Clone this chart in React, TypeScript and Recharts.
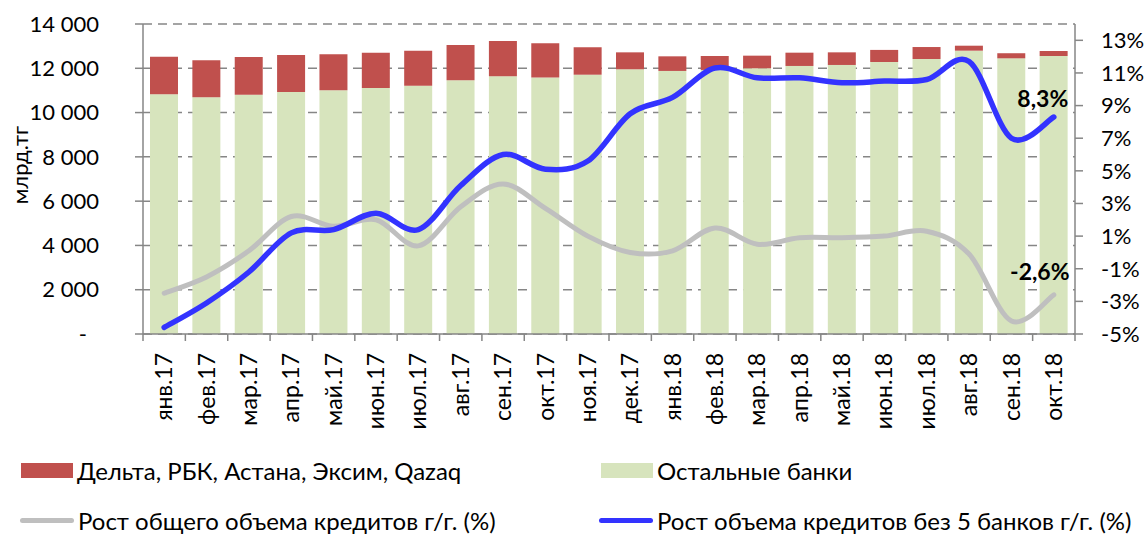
import { ComposedChart, Bar, Line, XAxis, YAxis, CartesianGrid } from "recharts";

const months = [
  "янв.17", "фев.17", "мар.17", "апр.17", "май.17", "июн.17", "июл.17", "авг.17", "сен.17", "окт.17", "ноя.17",
  "дек.17", "янв.18", "фев.18", "мар.18", "апр.18", "май.18", "июн.18", "июл.18", "авг.18", "сен.18", "окт.18",
];
const otherBanks = [10830, 10690, 10810, 10930, 11005, 11110, 11215, 11460, 11640, 11580, 11710, 11955, 11880, 11925, 12000, 12105, 12150, 12285, 12420, 12795, 12450, 12555];
const fiveBanks = [1695, 1670, 1700, 1670, 1625, 1595, 1580, 1590, 1595, 1550, 1240, 765, 660, 630, 570, 600, 570, 545, 540, 225, 230, 225];
const totalGrowth = [-2.5, -1.5, 0.1, 2.2, 1.6, 2.0, 0.4, 2.8, 4.2, 2.7, 1.0, 0.0, 0.1, 1.5, 0.5, 0.9, 0.9, 1.0, 1.3, -0.1, -4.2, -2.6];
const growthEx5 = [-4.6, -3.1, -1.2, 1.2, 1.4, 2.4, 1.4, 4.1, 6.0, 5.1, 5.6, 8.5, 9.5, 11.3, 10.7, 10.7, 10.4, 10.5, 10.6, 11.7, 7.0, 8.3];
const leftTicks = [0, 2000, 4000, 6000, 8000, 10000, 12000, 14000];
const rightTicks = [-5, -3, -1, 1, 3, 5, 7, 9, 11, 13];

const data = months.map((m, i) => ({
  m,
  other: otherBanks[i],
  five: fiveBanks[i],
  total: totalGrowth[i],
  ex5: growthEx5[i],
}));

const W = 1148;
const LEFT_W = 143;
const RIGHT_W = 73;
const BAND = (W - LEFT_W - RIGHT_W) / months.length;
const X_TICK = 7;
const X_GAP = 12;
const FONT = "Lato, 'Liberation Sans', sans-serif";
const AXIS = "#868686";

// excel-like smoothing (catmull-rom through the points)
function excelSmooth(context: any) {
  let pts: number[][] = [];
  return {
    areaStart() {},
    areaEnd() {},
    lineStart() { pts = []; },
    point(x: number, y: number) { pts.push([+x, +y]); },
    lineEnd() {
      const n = pts.length;
      if (!n) return;
      context.moveTo(pts[0][0], pts[0][1]);
      for (let i = 0; i < n - 1; i++) {
        const p0 = pts[i - 1] || pts[i];
        const p1 = pts[i];
        const p2 = pts[i + 1];
        const p3 = pts[i + 2] || p2;
        context.bezierCurveTo(
          p1[0] + (p2[0] - p0[0]) / 6, p1[1] + (p2[1] - p0[1]) / 6,
          p2[0] - (p3[0] - p1[0]) / 6, p2[1] - (p3[1] - p1[1]) / 6,
          p2[0], p2[1]
        );
      }
    },
  };
}

const fmtThousands = (v: number) => String(v).replace(/\B(?=(\d{3})+(?!\d))/g, " ");

function LeftTick({ x, y, payload }: any) {
  const v = payload.value;
  return (
    <text x={v === 0 ? x - 12 : x} y={y} dy="0.35em" textAnchor="end" fontSize={22} fill="#000">
      {v === 0 ? "-" : fmtThousands(v)}
    </text>
  );
}

function XTick({ x, y, payload, index }: any) {
  const top = y - X_TICK - X_GAP;
  return (
    <g>
      <line x1={x - BAND / 2} x2={x - BAND / 2} y1={top} y2={top + X_TICK} stroke={AXIS} strokeWidth={1.5} />
      {index === months.length - 1 && (
        <line x1={x + BAND / 2} x2={x + BAND / 2} y1={top} y2={top + X_TICK} stroke={AXIS} strokeWidth={1.5} />
      )}
      <text transform={`translate(${x},${y}) rotate(-90)`} textAnchor="end" dy="0.35em" fontSize={23} fill="#000">
        {payload.value}
      </text>
    </g>
  );
}

const endLabel = (text: string, dx: number, dy: number) => (p: any) => {
  if (p.index !== months.length - 1) return null;
  return (
    <text key={text} x={p.x + dx} y={p.y + dy} textAnchor="middle" fontSize={23} fontWeight="bold" fill="#000">
      {text}
    </text>
  );
};

function LegendRow() {
  const item = (left: number, top: number, swatch: any, label: string) => (
    <div style={{ position: "absolute", left, top, display: "flex", alignItems: "center", fontSize: 24, lineHeight: "27px", color: "#000" }}>
      {swatch}
      <span style={{ marginLeft: 4 }}>{label}</span>
    </div>
  );
  const box = (c: string) => <div style={{ width: 52, height: 15, background: c }} />;
  const ln = (c: string) => <div style={{ width: 54, height: 5, background: c, borderRadius: 3 }} />;
  return (
    <>
      {item(21, 457, box("#C0504D"), "Дельта, РБК, Астана, Эксим, Qazaq")}
      {item(601, 457, box("#D7E4BD"), "Остальные банки")}
      {item(20, 507, ln("#BFBFBF"), "Рост общего объема кредитов г/г. (%)")}
      {item(599, 507, ln("#3333FF"), "Рост объема кредитов без 5 банков г/г. (%)")}
    </>
  );
}

export default function App() {
  return (
    <div style={{ position: "absolute", left: 0, top: 0, width: W, height: 537, background: "#fff", fontFamily: FONT }}>
      <ComposedChart width={W} height={440} data={data} margin={{ top: 24, right: 0, left: 0, bottom: 0 }} barSize={28}>
        <CartesianGrid yAxisId="left" vertical={false} stroke={AXIS} strokeDasharray="9 6" strokeWidth={1.5} />
        <XAxis
          dataKey="m"
          interval={0}
          height={106}
          tickLine={false}
          tickSize={X_TICK}
          tickMargin={X_GAP}
          axisLine={{ stroke: AXIS, strokeWidth: 1.5 }}
          tick={<XTick />}
        />
        <YAxis
          yAxisId="left"
          width={LEFT_W}
          domain={[0, 14000]}
          ticks={leftTicks}
          tickSize={8}
          tickMargin={36}
          stroke={AXIS}
          strokeWidth={1.5}
          tick={<LeftTick />}
          label={(p: any) => (
            <text
              key="yl"
              transform={`translate(${p.viewBox.x + 20},${p.viewBox.y + 141}) rotate(-90)`}
              textAnchor="middle"
              dy="0.35em"
              fontSize={22}
              fill="#000"
            >
              млрд.тг
            </text>
          )}
        />
        <YAxis
          yAxisId="right"
          orientation="right"
          width={RIGHT_W}
          domain={[-5, 14]}
          ticks={rightTicks}
          tickSize={8}
          tickMargin={18}
          stroke={AXIS}
          strokeWidth={1.5}
          tick={{ fontSize: 22, fill: "#000", textAnchor: "start" }}
          tickFormatter={(v: number) => `${v}%`}
        />
        <Bar yAxisId="left" dataKey="other" stackId="a" fill="#D7E4BD" isAnimationActive={false} />
        <Bar yAxisId="left" dataKey="five" stackId="a" fill="#C0504D" isAnimationActive={false} />
        <Line
          yAxisId="right"
          dataKey="total"
          type={excelSmooth as any}
          stroke="#BFBFBF"
          strokeWidth={5}
          strokeLinecap="round"
          dot={false}
          activeDot={false}
          isAnimationActive={false}
          label={endLabel("-2,6%", -14, -15)}
        />
        <Line
          yAxisId="right"
          dataKey="ex5"
          type={excelSmooth as any}
          stroke="#3333FF"
          strokeWidth={5.5}
          strokeLinecap="round"
          dot={false}
          activeDot={false}
          isAnimationActive={false}
          label={endLabel("8,3%", -11, -10)}
        />
      </ComposedChart>
      <LegendRow />
    </div>
  );
}
